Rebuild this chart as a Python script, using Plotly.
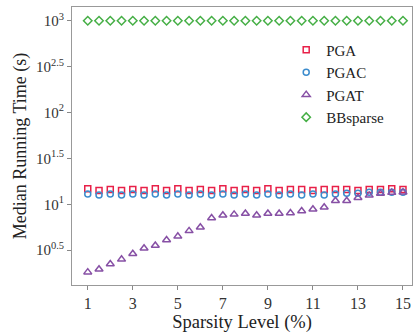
import plotly.graph_objects as go

sparsity = [1 + 0.5 * i for i in range(29)]

pga = [14.8, 14.1, 14.5, 14.1, 14.5, 14.1, 14.8, 14.1, 14.8, 14.1, 14.5, 14.1, 14.8, 14.1,
       14.5, 14.1, 14.8, 14.1, 14.5, 14.5, 14.1, 14.5, 14.5, 14.5, 14.1, 14.5, 14.5, 14.8, 14.5]
pgac = [12.9, 12.6, 12.9, 12.6, 12.9, 12.6, 12.9, 12.6, 12.9, 12.6, 12.9, 12.6, 12.9, 12.6,
        12.9, 12.6, 12.9, 12.6, 12.9, 12.6, 12.9, 12.6, 12.9, 13.2, 13.2, 13.5, 13.5, 13.5, 13.5]
pgat = [1.82, 1.96, 2.23, 2.51, 2.89, 3.31, 3.55, 4.07, 4.47, 5.13, 5.62, 7.08, 7.59, 7.76,
        7.94, 7.59, 7.92, 7.92, 8.04, 8.45, 8.83, 9.27, 10.9, 10.9, 11.8, 12.5, 13.1, 13.4, 13.5]
bbsparse = [1000] * 29

series = [
    ("PGA", pga, "square-open", "rgb(232,32,72)", 6),
    ("PGAC", pgac, "circle-open", "rgb(60,140,205)", 6),
    ("PGAT", pgat, "triangle-up-open", "rgb(135,80,165)", 7),
    ("BBsparse", bbsparse, "diamond-open", "rgb(70,175,70)", 6.5),
]

ytick_vals = [10 ** 0.5, 10 ** 1, 10 ** 1.5, 10 ** 2, 10 ** 2.5, 10 ** 3]
ytick_text = ["10<sup>0.5</sup>", "10<sup>1</sup>", "10<sup>1.5</sup>",
              "10<sup>2</sup>", "10<sup>2.5</sup>", "10<sup>3</sup>"]
xtick_vals = [1, 3, 5, 7, 9, 11, 13, 15]

fig = go.Figure()
for name, vals, sym, col, sz in series:
    fig.add_trace(go.Scatter(
        x=sparsity, y=vals, mode="markers", name=name,
        marker=dict(symbol=sym, color=col, size=sz, line=dict(width=1.5, color=col)),
    ))

font = "Liberation Serif, Times New Roman, serif"
fig.update_layout(
    width=418, height=335,
    margin=dict(l=72, r=6, t=7, b=50),
    paper_bgcolor="white", plot_bgcolor="white",
    font=dict(family=font, size=15, color="#333"),
    legend=dict(x=0.63, y=0.905, xanchor="left", yanchor="top",
                bgcolor="rgba(0,0,0,0)", font=dict(size=15, color="#222"),
                itemwidth=30, tracegroupgap=0),
    showlegend=True,
)
fig.update_xaxes(
    range=[0.3, 15.4], tickvals=xtick_vals, ticks="outside", ticklen=4,
    tickcolor="#888", showline=True, linecolor="#999", linewidth=1, mirror=True,
    showgrid=False, zeroline=False, tickfont=dict(size=16, color="#333"),
    title=dict(text="Sparsity Level (%)", font=dict(size=18.5, color="#222"), standoff=2),
)
fig.update_yaxes(
    type="log", range=[0.12, 3.15], tickvals=ytick_vals, ticktext=ytick_text,
    ticks="outside", ticklen=4, tickcolor="#888", showline=True, linecolor="#999",
    linewidth=1, mirror=True, showgrid=False, zeroline=False,
    tickfont=dict(size=15, color="#333"),
    title=dict(text="Median Running Time (s)", font=dict(size=18, color="#222"), standoff=4),
)
fig.write_html("out.html", config={"displayModeBar": False})

with open("out.html", "r", encoding="utf-8") as f:
    html = f.read()
html = html.replace("<body>", '<body style="margin:0;padding:0;">', 1)
html = html.replace("<head>", '<head><style>html,body{margin:0;padding:0;overflow:hidden;}</style>', 1)
with open("out.html", "w", encoding="utf-8") as f:
    f.write(html)
